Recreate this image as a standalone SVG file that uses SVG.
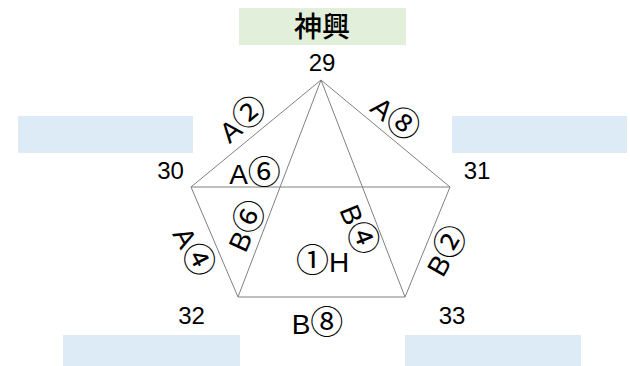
<svg xmlns="http://www.w3.org/2000/svg" width="630" height="366" viewBox="0 0 630 366">
<style>
.t{font-family:"Liberation Sans","Noto Sans CJK JP",sans-serif;font-size:24px;fill:#000;text-anchor:middle}
.l{font-family:"Liberation Sans","Noto Sans CJK JP",sans-serif;font-size:28px;fill:#000;text-anchor:middle}
.c{font-family:"Noto Sans CJK JP",sans-serif;font-size:33px}
.e{stroke:#808080;stroke-width:1;fill:none}
.g{fill:#E2EFDA}
.b{fill:#DDEBF7}
</style>
<rect width="630" height="366" fill="#fff"/>
<g id="title"><rect class="g" x="239" y="8" width="167" height="37"/><text x="322" y="37" style="font-family:'Noto Sans CJK JP',sans-serif;font-size:28px;text-anchor:middle;font-weight:500">神興</text></g>
<g id="box-left"><rect class="b" x="18" y="116" width="175" height="37"/></g>
<g id="box-right"><rect class="b" x="452" y="116" width="175" height="37"/></g>
<g id="box-bl"><rect class="b" x="63" y="335" width="177" height="31"/></g>
<g id="box-br"><rect class="b" x="405" y="335" width="176" height="31"/></g>
<g id="connectors">
<line class="e" x1="321" y1="80" x2="191" y2="187"/>
<line class="e" x1="321" y1="80" x2="450" y2="187"/>
<line class="e" x1="191" y1="187" x2="450" y2="187"/>
<line class="e" x1="191" y1="187" x2="238" y2="297"/>
<line class="e" x1="450" y1="187" x2="405" y2="297"/>
<line class="e" x1="238" y1="297" x2="405" y2="297"/>
<line class="e" x1="321" y1="80" x2="238" y2="297"/>
<line class="e" x1="321" y1="80" x2="405" y2="297"/>
</g>
<g id="n29"><text class="t" x="322" y="71">29</text></g>
<g id="n30"><text class="t" x="170.5" y="179">30</text></g>
<g id="n31"><text class="t" x="477" y="179">31</text></g>
<g id="n32"><text class="t" x="191.5" y="324">32</text></g>
<g id="n33"><text class="t" x="452" y="324">33</text></g>
<g id="labels">
<text class="l" x="317.5" y="334">B<tspan class="c">⑧</tspan></text>
<text class="l" x="322.5" y="272"><tspan class="c">①</tspan>H</text>
<text class="l" x="255" y="184">A<tspan class="c">⑥</tspan></text>
<text class="l" transform="translate(243,120) rotate(-39.5)" y="10">A<tspan class="c">②</tspan></text>
<text class="l" transform="translate(395,119) rotate(39.7)" y="10">A<tspan class="c">⑧</tspan></text>
<text class="l" transform="translate(193,252) rotate(62)" y="10">A<tspan class="c">④</tspan></text>
<text class="l" transform="translate(247,226) rotate(-66)" y="10">B<tspan class="c">⑥</tspan></text>
<text class="l" transform="translate(358,230) rotate(68)" y="10">B<tspan class="c">④</tspan></text>
<text class="l" transform="translate(447,251) rotate(-60)" y="10">B<tspan class="c">②</tspan></text>
</g>
</svg>
